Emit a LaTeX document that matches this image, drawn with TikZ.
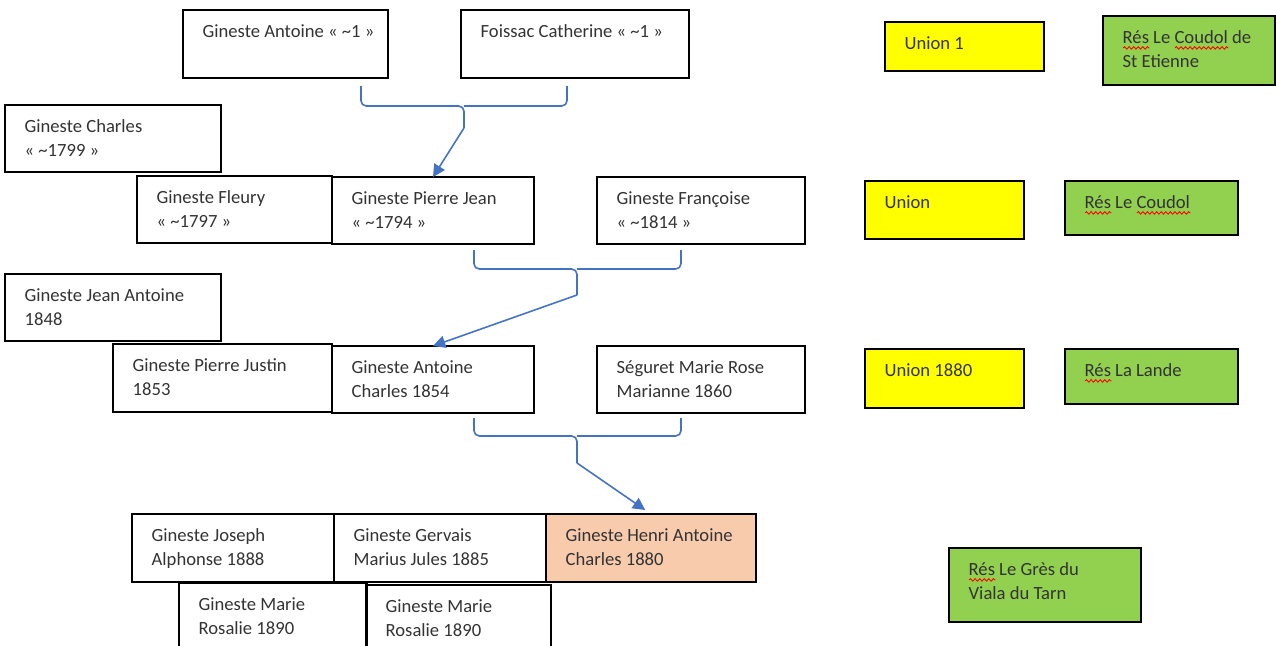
\documentclass[tikz,border=0pt]{standalone}
\usepackage{fontspec}
\setmainfont{Carlito}
\usepackage{tikz}
\usetikzlibrary{arrows.meta, decorations.pathmorphing}
\definecolor{unionyellow}{HTML}{FFFF00}
\definecolor{resgreen}{HTML}{92D050}
\definecolor{henripeach}{HTML}{F8CBAD}
\definecolor{linkblue}{HTML}{4472C4}
\newlength{\spellwd}
\newcommand{\spellerr}[1]{\settowidth{\spellwd}{#1}\rlap{\tikz[baseline=0pt, x=1pt, y=1pt]
  \draw[red, line width=0.5pt, decorate, decoration={snake, amplitude=0.7pt, segment length=2.6pt}] (0pt,-2.6pt) -- (\spellwd,-2.6pt);}#1}
\tikzset{
  box/.style 2 args={draw, line width=0.9pt, anchor=north west, inner sep=0pt, outer sep=0pt,
    minimum width=#1*0.02cm, minimum height=#2*0.02cm},
  txt/.style={anchor=north west, inner xsep=11pt, inner ysep=8pt, align=left,
    font=\fontsize{10.6}{13.6}\selectfont, text=black!80},
  link/.style={draw=linkblue, line width=0.9pt, rounded corners=3pt},
}

\begin{document}
\begin{tikzpicture}[x=0.02cm, y=-0.02cm, >={Triangle[length=7pt, width=7pt]}]
    \useasboundingbox (0,0) rectangle (1276,646);

    % Oldest couple
    \node[box={205}{68}, label={[txt]north west:{Gineste Antoine « \textasciitilde1 »}}] (ga) at (183,10) {};
    \node[box={228}{68}, label={[txt]north west:{Foissac Catherine « \textasciitilde1 »}}] (fc) at (461,10) {};

    % Generation ~1794
    \node[box={216}{67}, label={[txt]north west:{Gineste Charles\\« \textasciitilde1799 »}}] (gch) at (5,105) {};
    \node[box={195}{67}, label={[txt]north west:{Gineste Fleury\\« \textasciitilde1797 »}}] (gfl) at (137,176) {};
    \node[box={202}{67}, label={[txt]north west:{Gineste Pierre Jean\\« \textasciitilde1794 »}}] (gpj) at (332,177) {};
    \node[box={208}{67}, label={[txt]north west:{Gineste Françoise\\« \textasciitilde1814 »}}] (gfr) at (597,177) {};

    % Generation 1854
    \node[box={216}{67}, label={[txt]north west:{Gineste Jean Antoine\\1848}}] (gja) at (5,274) {};
    \node[box={219}{68}, label={[txt]north west:{Gineste Pierre Justin\\1853}}] (gpju) at (113,344) {};
    \node[box={202}{67}, label={[txt]north west:{Gineste Antoine\\Charles 1854}}] (gac) at (332,346) {};
    \node[box={208}{67}, label={[txt]north west:{Séguret Marie Rose\\Marianne 1860}}] (smr) at (597,346) {};

    % Children
    \node[box={202}{68}, label={[txt]north west:{Gineste Joseph\\Alphonse 1888}}] (gjo) at (132,514) {};
    \node[box={212}{68}, label={[txt]north west:{Gineste Gervais\\Marius Jules 1885}}] (ggv) at (334,514) {};
    \node[box={210}{68}, fill=henripeach, label={[txt]north west:{Gineste Henri Antoine\\Charles 1880}}] (gha) at (546,514) {};
    \node[box={188}{70}, label={[txt]north west:{Gineste Marie\\Rosalie 1890}}] (gmr) at (179,583) {};
    \node[box={185}{70}, label={[txt]north west:{Gineste Marie\\Rosalie 1890}}] (gmrb) at (366,585) {};

    % Unions and residences
    \node[box={159}{49}, fill=unionyellow, label={[txt]north west:{Union 1}}] (un1) at (885,22) {};
    \node[box={172}{69}, fill=resgreen, label={[txt]north west:{\spellerr{Rés} Le \spellerr{Coudol} de\\St Etienne}}] (res1) at (1103,16) {};
    \node[box={159}{58}, fill=unionyellow, label={[txt]north west:{Union}}] (un2) at (865,181) {};
    \node[box={173}{54}, fill=resgreen, label={[txt]north west:{\spellerr{Rés} Le \spellerr{Coudol}}}] (res2) at (1065,181) {};
    \node[box={159}{59}, fill=unionyellow, label={[txt]north west:{Union 1880}}] (un3) at (865,349) {};
    \node[box={173}{55}, fill=resgreen, label={[txt]north west:{\spellerr{Rés} La Lande}}] (res3) at (1065,349) {};
    \node[box={192}{74}, fill=resgreen, label={[txt]north west:{\spellerr{Rés} Le Grès du\\Viala du Tarn}}] (res4) at (949,548) {};

    % Bracket points under each couple
    \coordinate (b1l) at (361,86);  \coordinate (b1r) at (567,86);
    \coordinate (b1m) at (464,106); \coordinate (b1s) at (464,128);
    \coordinate (b2l) at (474,250); \coordinate (b2r) at (681,250);
    \coordinate (b2m) at (577,269); \coordinate (b2s) at (577,295);
    \coordinate (b3l) at (474,418); \coordinate (b3r) at (681,418);
    \coordinate (b3m) at (577,436); \coordinate (b3s) at (577,463);

    % Couple brackets and descent arrows
    \draw[link] (b1l) |- (b1m) -- (b1s);
    \draw[link] (b1r) |- (b1m);
    \draw[link, ->, rounded corners=0pt] (b1s) -- (gpj.north);

    \draw[link] (b2l) |- (b2m) -- (b2s);
    \draw[link] (b2r) |- (b2m);
    \draw[link, ->, rounded corners=0pt] (b2s) -- (gac.north);

    \draw[link] (b3l) |- (b3m) -- (b3s);
    \draw[link] (b3r) |- (b3m);
    \draw[link, ->, rounded corners=0pt, shorten >=4pt] (b3s) -- (gha.north);
\end{tikzpicture}
\end{document}
